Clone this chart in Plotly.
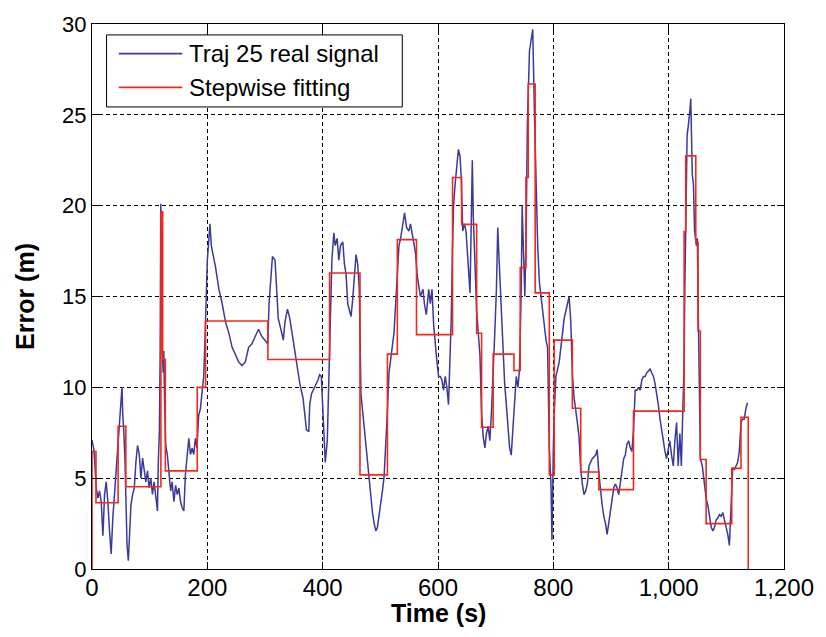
import plotly.graph_objects as go

# ---- data ----
time_s = [
    0, 3.4, 7.4, 10.3, 13, 16, 18.9, 21.8, 24.6, 27.5, 30.4, 33.2, 36.1, 39, 41.8, 44.7, 47.6, 50.4, 52,
    53.3, 55, 57.3, 59, 60.7, 63, 65.3, 67.6, 70.5, 73.3, 76.2, 79, 82, 84.8, 87.7, 90.5, 93.4, 96.3, 99,
    102, 104.8, 107.7, 110.6, 113.5, 115, 116.9, 118.2, 119.3, 120.5, 121.5, 123.5, 124.5, 126, 127.8,
    130.6, 133.5, 136.4, 139, 142, 145, 147.8, 150.7, 153.6, 156.4, 159.3, 162, 165, 167.9, 170.7, 173.6,
    176.5, 179.3, 182, 185, 188, 190.8, 193.7, 195.5, 197, 198, 200, 202.8, 204.5, 206.9, 209.7, 214.3,
    220, 225.8, 231.5, 237.2, 243, 248.7, 254.4, 260, 265.9, 271.6, 277.3, 283, 288.8, 294.5, 300.3,
    304.8, 307, 310.6, 312.9, 317.4, 320.3, 323, 329, 331.8, 334.6, 339, 343, 349, 354.7, 360.4, 366,
    369, 371.9, 375.9, 377.6, 380.5, 386.2, 391.9, 394.7, 397.7, 400.5, 404.5, 408, 410, 413.7, 416,
    419.4, 421.7, 425.1, 428, 430.9, 434.9, 437.7, 440.6, 443.5, 446.3, 449.2, 452, 454.9, 457.8, 460.7,
    463.5, 466.4, 469.3, 472.1, 475, 477.9, 480.7, 483.6, 486.4, 489.3, 492.2, 495, 497.9, 500.8, 503.6,
    506.5, 509.4, 512.2, 515, 518, 520.8, 523.7, 526.6, 529.4, 532.3, 535.2, 538, 542, 545.5, 549.5,
    552.3, 557, 561, 563.8, 566.7, 569.5, 574, 576.4, 579.8, 583.9, 586.7, 589.6, 592.5, 595.3, 598.2,
    601, 604, 606.8, 609.6, 612.5, 615.4, 618.2, 621, 623, 625, 627, 629.7, 632.6, 635.4, 638.3, 640,
    642.9, 645.7, 648.6, 650.9, 653.2, 655.5, 657.2, 659.5, 661.2, 664, 667, 669.8, 672.7, 675.5, 678.4,
    681.3, 684, 687, 689.9, 692.7, 695.6, 698.5, 701.3, 703.6, 706, 708, 710.5, 712.8, 715.6, 718.5,
    721.4, 724.2, 727, 730, 732.8, 735.7, 738.6, 741.4, 744.3, 746, 748.3, 750.6, 752.9, 755, 758.6,
    761.5, 764.3, 767.2, 770, 772.9, 775.8, 778.6, 781.5, 784.4, 787.3, 790, 793, 795.9, 797.6, 800,
    801.6, 804.5, 810.2, 816, 818.8, 821.7, 824.6, 827.4, 830.3, 833.2, 836, 838.9, 841.7, 844.6, 847.5,
    850.3, 853.2, 856, 859, 861.8, 867.5, 873.3, 876, 879, 881.9, 884.7, 887.6, 890.5, 893.3, 896.2,
    899, 901.9, 904.8, 907.6, 910.5, 913.4, 916.2, 919, 922, 924.8, 927.7, 930.6, 933.4, 936.3, 939,
    942, 944.9, 947.7, 950.6, 953.5, 956.3, 959.2, 962, 965, 967.8, 970.7, 973.5, 976.4, 979.3, 982,
    985, 987.9, 990.7, 993.6, 996.4, 999.3, 1002, 1005, 1008, 1010.8, 1013.7, 1016.5, 1019.4, 1022,
    1024, 1026.8, 1028, 1029.7, 1032, 1033.7, 1035.4, 1037, 1038.3, 1039.4, 1041, 1042.9, 1045, 1048,
    1049.7, 1051.5, 1053, 1055, 1058.3, 1062, 1065, 1068, 1071, 1073.8, 1076.7, 1079.5, 1082.4, 1085.3,
    1088, 1091, 1093.9, 1096.7, 1099.6, 1102.5, 1105.3, 1107, 1109.3, 1111, 1114, 1116.8, 1119.7,
    1122.5, 1125.4, 1128, 1131, 1134, 1136.8,
]
error_m = [
    7.1, 6.55, 4.46, 3.9, 4.3, 3.7, 1.83, 4.1, 4.8, 3.7, 2.1, 0.83, 2.8, 4.1, 5.4, 7.0, 8.0, 9.74, 10.0,
    8.5, 7.7, 5.9, 3.55, 1.37, 0.46, 2.6, 3.55, 4.1, 4.46, 5.9, 6.8, 6.3, 5.0, 6.1, 5.55, 4.8, 5.4, 4.46,
    5.0, 4.1, 4.8, 3.9, 3.2, 5.9, 7.55, 12.0, 20.1, 17.0, 12.2, 10.8, 12.0, 9.0, 6.8,
    6.3, 5.4, 4.3, 4.8, 3.7, 4.6, 4.1, 4.46, 3.7, 3.37, 3.2, 5.2, 6.46, 7.2, 6.3, 6.65,
    6.3, 7.2, 6.65, 8.46, 8.83, 9.55, 10.6, 12.2, 13.6, 15.4, 17.0, 18.2, 19.0, 17.8, 17.4, 16.6,
    15.4, 14.6, 13.6, 13.0, 12.2, 11.8, 11.4, 11.2, 11.4, 12.2, 12.4, 12.8, 13.2, 12.8, 12.6,
    12.4, 14.6, 16.2, 17.2, 17.0, 15.0, 13.8, 13.0, 12.6, 13.6, 14.3, 13.8, 12.6, 11.4, 10.2, 9.4,
    8.65, 7.66, 7.56, 9.05, 9.64, 10.0, 10.4, 10.7, 10.6, 8.65, 5.87, 7.06, 10.0, 14.6, 17.0,
    18.5, 17.8, 18.2, 17.0, 17.8, 18.0, 16.8, 16.2, 14.6, 14.2, 13.9, 14.8, 16.2, 17.3, 16.8,
    15.4, 9.64, 8.65, 7.86, 7.06, 5.87, 4.68, 3.89, 3.1, 2.5, 2.1, 2.3, 2.9, 3.5, 4.29,
    5.08, 6.67, 8.65, 10.8, 11.6, 12.2, 13.0, 14.6, 16.6, 17.8, 18.2, 18.8, 19.6, 18.8, 18.6,
    19.0, 18.2, 17.4, 16.2, 15.6, 15.0, 15.4, 14.6, 14.0, 15.4, 14.6, 15.4, 13.4, 12.2, 11.4,
    10.6, 10.6, 10.4, 9.84, 10.6, 10.0, 9.05, 11.4, 13.8, 17.6, 20.0, 21.2, 22.3, 23.1, 22.7, 21.7,
    18.6, 19.0, 18.6, 17.4, 16.0, 15.2, 18.2, 22.5, 19.4, 16.6, 14.2, 13.0, 11.8, 8.65, 7.26,
    6.67, 7.46, 7.86, 7.06, 8.65, 10.6, 13.0, 15.4, 18.8, 17.0, 15.4, 13.4, 11.4, 10.2, 9.05,
    7.86, 6.67, 6.27, 7.66, 9.44, 10.6, 10.0, 11.0, 15.4, 20.0, 17.4, 15.0, 18.6, 24.5, 28.5,
    29.1, 29.7, 25.1, 20.6, 17.8, 15.8, 15.0, 14.2, 13.4, 12.6, 12.2, 6.67, 4.68, 1.6, 6.67,
    8.65, 10.6, 11.4, 13.0, 13.8, 14.2, 14.6, 15.0, 13.6, 10.6, 9.44, 8.85, 8.06, 7.26, 5.48,
    4.68, 4.09, 4.29, 4.68, 5.67, 6.07, 6.27, 6.57, 5.28, 4.29, 3.5, 2.9, 2.5, 1.9, 2.5,
    3.3, 3.89, 4.48, 4.68, 4.48, 4.09, 4.68, 5.48, 6.07, 6.27, 6.87, 7.06, 6.67, 6.47, 7.66,
    9.84, 9.84, 10.0, 9.84, 10.4, 10.6, 10.6, 10.8, 10.9, 11.0, 10.8, 10.6, 10.2, 9.64, 9.05,
    8.25, 7.66, 6.87, 6.47, 6.07, 6.67, 7.06, 6.27, 5.67, 7.06, 8.06, 5.67, 7.46, 5.67,
    8.06, 11.4, 15.4, 18.6, 23.9, 24.3, 24.7, 25.3, 25.9, 24.7, 21.7, 21.2, 18.6, 17.8,
    18.2, 13.8, 11.2, 6.07, 5.67, 4.68, 3.89, 3.5, 2.7, 2.3, 2.1, 2.3, 2.7, 2.8,
    3.0, 2.9, 3.1, 2.7, 2.3, 1.9, 1.3, 2.5, 4.88, 5.58, 5.48, 5.67, 5.87,
    6.47, 8.06, 8.25, 8.25, 8.85, 9.15,
]

# stepwise fit: start time of each step and its level (line_shape "hv")
fit_time = [0, 0, 6.9, 45.3, 58.7, 119.5, 122.6, 127.2, 182.5, 197, 305, 412, 464.7, 512.3, 529.5,
            562.7, 625.2, 641, 667, 675.6, 695.6, 731.7, 742.6, 752.5, 756.5, 768.5, 793, 801.6, 833,
            847.5, 879, 939, 1026.8, 1029.6, 1047, 1050.9, 1054.9, 1065, 1109.4, 1125.4, 1138]
fit_error = [0, 6.47, 3.65, 7.86, 4.53, 19.66, 11.53, 5.4, 10.0, 13.65, 11.53, 16.29, 5.18, 11.83, 18.13,
             12.9, 21.55, 18.97, 12.98, 7.8, 11.83, 10.93, 16.59, 21.55, 26.7, 15.2, 5.18, 12.6, 8.85,
             5.34, 4.37, 8.69, 18.57, 22.74, 17.98, 13.1, 6.03, 2.5, 5.54, 8.35, 0]

x_ticks = [0, 200, 400, 600, 800, 1000, 1200]
x_tick_labels = ["0", "200", "400", "600", "800", "1,000", "1,200"]
y_ticks = [0, 5, 10, 15, 20, 25, 30]
legend_labels = ["Traj 25 real signal", "Stepwise fitting"]
x_title = "Time (s)"
y_title = "Error (m)"

BLUE = "#3a3a9c"
RED = "#f2281c"
FONT = "Liberation Sans, Arial, Helvetica, sans-serif"

fig = go.Figure()
fig.add_trace(go.Scatter(x=time_s, y=error_m, mode="lines", name=legend_labels[0],
                         line=dict(color=BLUE, width=1.5), showlegend=False))
fig.add_trace(go.Scatter(x=fit_time, y=fit_error, mode="lines", name=legend_labels[1],
                         line=dict(color=RED, width=1.6, shape="hv"), showlegend=False))

axis_common = dict(
    ticks="inside", ticklen=7, tickcolor="black", tickwidth=1,
    showline=True, linecolor="black", linewidth=1, mirror="ticks",
    showgrid=True, gridcolor="black", gridwidth=1, griddash="4px,3px",
    zeroline=False,
)

fig.update_layout(
    width=826, height=637,
    margin=dict(l=92, r=36, t=19, b=68),
    paper_bgcolor="white", plot_bgcolor="white",
    font=dict(family=FONT, color="black"),
    xaxis=dict(range=[0, 1200], tickvals=x_ticks, ticktext=x_tick_labels,
               tickfont=dict(size=24), ticklabelstandoff=-3, **axis_common),
    yaxis=dict(range=[0, 30], tickvals=y_ticks, ticktext=[str(v) for v in y_ticks],
               tickfont=dict(size=22),
               title=dict(text=y_title, font=dict(size=25, weight="bold"), standoff=20),
               **axis_common),
    showlegend=False,
)

# x-axis title placed as in the reference
fig.add_annotation(xref="paper", yref="paper", x=0.5, y=-0.08, text=x_title, showarrow=False,
                   xanchor="center", yanchor="middle",
                   font=dict(size=25, family=FONT, color="black", weight="bold"))

# legend box drawn to match the reference layout
lx0, lx1, ly0, ly1 = 0.021, 0.4484, 0.8478, 0.98
fig.add_shape(type="rect", xref="paper", yref="paper", x0=lx0, x1=lx1, y0=ly0, y1=ly1,
              line=dict(color="black", width=1), fillcolor="white", layer="above")
rows_y = [0.9455, 0.8836]
for label, color, yy in zip(legend_labels, [BLUE, RED], rows_y):
    fig.add_shape(type="line", xref="paper", yref="paper", x0=0.0387, x1=0.1304, y0=yy, y1=yy,
                  line=dict(color=color, width=1.7), layer="above")
    fig.add_annotation(xref="paper", yref="paper", x=0.1375, y=yy, text=label, showarrow=False,
                       xanchor="left", yanchor="middle", font=dict(size=24, family=FONT, color="black"))

fig.write_html("out.html")
